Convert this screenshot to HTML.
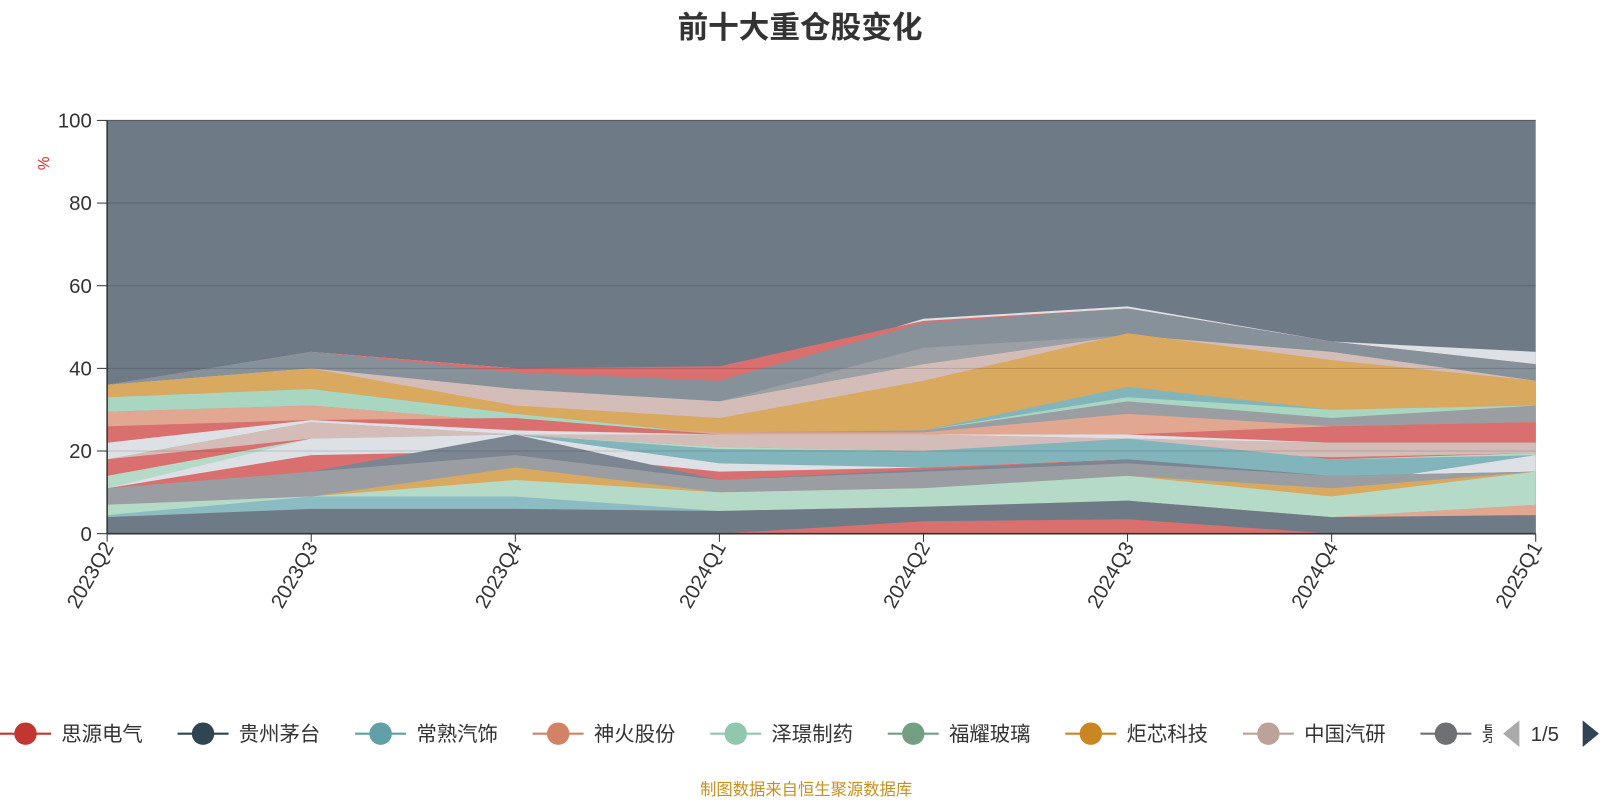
<!DOCTYPE html>
<html><head><meta charset="utf-8"><style>
body{margin:0;background:#fff;width:1600px;height:800px;overflow:hidden;font-family:"Liberation Sans","Noto Sans CJK SC",sans-serif}
svg{display:block}
</style></head><body>
<svg width="1600" height="800" viewBox="0 0 1568 784" preserveAspectRatio="none" xmlns="http://www.w3.org/2000/svg" font-family="Liberation Sans, Noto Sans CJK SC, sans-serif">
<text x="784" y="37" text-anchor="middle" font-size="30" font-weight="bold" fill="#333">前十大重仓股变化</text>
<text x="48" y="160" font-size="15" fill="#e02020" transform="rotate(-90 48 160)" text-anchor="middle">%</text>
<rect x="105" y="118" width="1400" height="405" fill="#6e7b87"/>
<g id="areas"></g>
<g stroke="#000" stroke-opacity="0.15">
<line x1="105" x2="1505" y1="199" y2="199"/><line x1="105" x2="1505" y1="280" y2="280"/><line x1="105" x2="1505" y1="361" y2="361"/><line x1="105" x2="1505" y1="442" y2="442"/>
</g>
<line x1="105" y1="118" x2="1505" y2="118" stroke="#555" stroke-width="1"/>
<line x1="105" y1="118" x2="105" y2="523" stroke="#333" stroke-width="1.5"/>
<line x1="105" y1="523" x2="1505" y2="523" stroke="#333" stroke-width="1.5"/>
<g font-size="20" fill="#333" text-anchor="end">
<text x="90" y="125">100</text><text x="90" y="206">80</text><text x="90" y="287">60</text><text x="90" y="368">40</text><text x="90" y="449">20</text><text x="90" y="530">0</text>
</g>
<g stroke="#333"><line x1="95" x2="105" y1="118" y2="118"/><line x1="95" x2="105" y1="199" y2="199"/><line x1="95" x2="105" y1="280" y2="280"/><line x1="95" x2="105" y1="361" y2="361"/><line x1="95" x2="105" y1="442" y2="442"/><line x1="95" x2="105" y1="523" y2="523"/>
<line x1="105" x2="105" y1="523" y2="531"/><line x1="305" x2="305" y1="523" y2="531"/><line x1="505" x2="505" y1="523" y2="531"/><line x1="705" x2="705" y1="523" y2="531"/><line x1="905" x2="905" y1="523" y2="531"/><line x1="1105" x2="1105" y1="523" y2="531"/><line x1="1305" x2="1305" y1="523" y2="531"/><line x1="1505" x2="1505" y1="523" y2="531"/></g>
<g font-size="20" fill="#333" text-anchor="end">
<text transform="translate(112 536) rotate(-60)">2023Q2</text>
<text transform="translate(312 536) rotate(-60)">2023Q3</text>
<text transform="translate(512 536) rotate(-60)">2023Q4</text>
<text transform="translate(712 536) rotate(-60)">2024Q1</text>
<text transform="translate(912 536) rotate(-60)">2024Q2</text>
<text transform="translate(1112 536) rotate(-60)">2024Q3</text>
<text transform="translate(1312 536) rotate(-60)">2024Q4</text>
<text transform="translate(1512 536) rotate(-60)">2025Q1</text>
</g>
<g font-size="20" fill="#333">
<line x1="0" x2="50" y1="719" y2="719" stroke="#c23531" stroke-width="2"/><circle cx="25" cy="719" r="11" fill="#c23531"/><text x="60" y="726">思源电气</text>
<line x1="174" x2="224" y1="719" y2="719" stroke="#2f4554" stroke-width="2"/><circle cx="199" cy="719" r="11" fill="#2f4554"/><text x="234" y="726">贵州茅台</text>
<line x1="348" x2="398" y1="719" y2="719" stroke="#61a0a8" stroke-width="2"/><circle cx="373" cy="719" r="11" fill="#61a0a8"/><text x="408" y="726">常熟汽饰</text>
<line x1="522" x2="572" y1="719" y2="719" stroke="#d48265" stroke-width="2"/><circle cx="547" cy="719" r="11" fill="#d48265"/><text x="582" y="726">神火股份</text>
<line x1="696" x2="746" y1="719" y2="719" stroke="#91c7ae" stroke-width="2"/><circle cx="721" cy="719" r="11" fill="#91c7ae"/><text x="756" y="726">泽璟制药</text>
<line x1="870" x2="920" y1="719" y2="719" stroke="#749f83" stroke-width="2"/><circle cx="895" cy="719" r="11" fill="#749f83"/><text x="930" y="726">福耀玻璃</text>
<line x1="1044" x2="1094" y1="719" y2="719" stroke="#ca8622" stroke-width="2"/><circle cx="1069" cy="719" r="11" fill="#ca8622"/><text x="1104" y="726">炬芯科技</text>
<line x1="1218" x2="1268" y1="719" y2="719" stroke="#bda29a" stroke-width="2"/><circle cx="1243" cy="719" r="11" fill="#bda29a"/><text x="1278" y="726">中国汽研</text>
<line x1="1392" x2="1442" y1="719" y2="719" stroke="#6e7074" stroke-width="2"/><circle cx="1417" cy="719" r="11" fill="#6e7074"/><text x="1452" y="726">景</text>
<rect x="1462" y="700" width="10" height="40" fill="#fff"/>
<polygon points="1489,706 1489,732 1473,719" fill="#aaa"/>
<text x="1500" y="726">1/5</text>
<polygon points="1551,706 1551,732 1567,719" fill="#2f4554"/>
</g>
<text x="790" y="779" text-anchor="middle" font-size="16" fill="#c8901e">制图数据来自恒生聚源数据库</text>
</svg>
<script>
var layers=[
["#dde0e5",[36,44,40,37,52,55,46.5,44]],
["#d9706f",[36,44,40,40.5,51.5,54.5,46.5,41]],
["#87919a",[36,44,39,37,51,54.5,46.5,41]],
["#9c9fa3",[36,40,35,32,45,48,44,37]],
["#d4bdb8",[36,40,35,32,41,48,44,37]],
["#d9a95f",[36,40,31,28,37,48.5,42,37]],
["#82b5bb",[33,35,29,24,25,35.5,30,31]],
["#a9d6c1",[33,35,29,24,25,33,30,31]],
["#9a9ea2",[29.5,31,27,24.5,25,32,28,31]],
["#e2a791",[29.5,31,27,24.5,24.5,29,26,27]],
["#d9706f",[26,27.5,28,24,24,24,26,27]],
["#dde0e5",[22,27.5,25,24,24,24,22,22]],
["#93b59d",[18,27,24,24,24,23,22,22]],
["#d4bdb8",[18,27,24,24,24,23,22,22]],
["#d9706f",[18,23,24,21,20,20,18.5,19.5]],
["#b5dbc8",[14,23,24,21,20,20,18,19.5]],
["#82b5bb",[11,23,24,20.5,20,23,18,19]],
["#dde0e5",[11,23,24,17,16,18,11.5,19]],
["#d9706f",[11,19,20,15,16,18,11.5,15]],
["#7b8692",[11,15,24,13,15.5,18,14,15]],
["#9a9ea2",[11,15,19,13,15,17,14,15]],
["#d9a95f",[7,9,16,10,11,14,11,15]],
["#b5dbc8",[7,9,13,10,11,14,9,15]],
["#8bbcc4",[4.5,9,9,5.5,6.5,8,4,7]],
["#e2a791",[4,6,6,5.5,6.5,8,4,7]],
["#6e7b87",[4,6,6,5.5,6.5,8,4,4.5]],
["#d9706f",[0,0,0,0,3,3.5,0,0]]
];
var g=document.getElementById("areas"),s="";
layers.forEach(function(l){
 var p="105,523 ";
 l[1].forEach(function(v,i){p+=(105+200*i)+","+(523-v*4.05)+" ";});
 p+="1505,523";
 s+='<polygon points="'+p+'" fill="'+l[0]+'"/>';
});
g.innerHTML=s;
</script>
</body></html>
